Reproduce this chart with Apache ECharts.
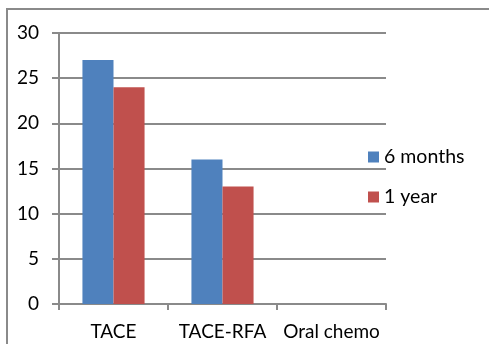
<!DOCTYPE html>
<html>
<head>
<meta charset="utf-8">
<script src="https://cdn.jsdelivr.net/npm/echarts@6/dist/echarts.min.js"></script>
<style>
html,body{margin:0;padding:0;background:#fff;}
#chart{width:489px;height:344px;}
</style>
</head>
<body>
<div id="chart"></div>
<script>
var categories = ['TACE', 'TACE-RFA', 'Oral chemo'];
var seriesNames = ['6 months', '1 year'];
var sixMonths = [27, 16, 0];
var oneYear = [24, 13, 0];
var yTicks = { min: 0, max: 30, interval: 5 };

var FONT = 'Lato';
var chart = echarts.init(document.getElementById('chart'), null, { renderer: 'canvas' });
chart.setOption({
  animation: false,
  backgroundColor: '#fff',
  textStyle: { fontFamily: FONT },
  graphic: [{
    type: 'polyline',
    shape: { points: [[7, 400], [7, 9], [500, 9]] },
    style: { stroke: '#8a8a8a', lineWidth: 2, fill: null },
    silent: true
  }],
  grid: { left: 59, right: 103, top: 33, bottom: 40, containLabel: false },
  legend: {
    orient: 'vertical',
    left: 368,
    top: 147,
    padding: 0,
    itemWidth: 11,
    itemHeight: 11,
    itemGap: 20,
    icon: 'rect',
    textStyle: { fontFamily: FONT, fontSize: 19.5, color: '#000' },
    data: seriesNames
  },
  xAxis: {
    type: 'category',
    data: categories,
    boundaryGap: true,
    axisLine: { show: true, lineStyle: { color: '#8a8a8a', width: 2 } },
    axisTick: { show: true, length: 6, lineStyle: { color: '#8a8a8a', width: 2 } },
    axisLabel: { color: '#000', fontSize: 19, fontFamily: FONT, margin: 18, interval: 0 }
  },
  yAxis: {
    type: 'value',
    min: yTicks.min,
    max: yTicks.max,
    interval: yTicks.interval,
    axisLine: { show: true, lineStyle: { color: '#8a8a8a', width: 2 } },
    axisTick: { show: true, length: 7, lineStyle: { color: '#8a8a8a', width: 2 } },
    splitLine: { show: true, lineStyle: { color: '#8a8a8a', width: 2 } },
    axisLabel: { color: '#000', fontSize: 19, fontFamily: FONT, margin: 20 }
  },
  series: [
    {
      name: seriesNames[0], type: 'bar', data: sixMonths,
      barGap: '0%', barCategoryGap: '43%',
      itemStyle: { color: '#4F81BD' }
    },
    {
      name: seriesNames[1], type: 'bar', data: oneYear,
      barGap: '0%', barCategoryGap: '43%',
      itemStyle: { color: '#C0504D' }
    }
  ]
});
</script>
</body>
</html>
